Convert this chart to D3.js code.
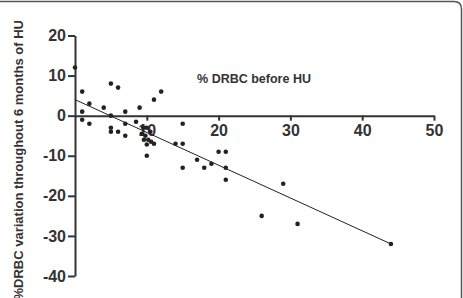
<!DOCTYPE html>
<html>
<head>
<meta charset="utf-8">
<script src="https://cdn.jsdelivr.net/npm/d3@7"></script>
<style>
  html, body { margin: 0; padding: 0; background: #fff; }
  svg { display: block; }
  text { font-family: "Liberation Sans", Arial, sans-serif; font-weight: bold; fill: #333; }
</style>
</head>
<body>
<div id="chart"></div>
<script>
// Scatter: % DRBC before HU vs % DRBC variation after 6 months

// % DRBC before HU
const xValues = [0, 1, 1, 1, 2, 2, 4, 5, 6, 5, 5, 5, 6, 7, 7, 7, 8.5, 9, 11, 12,
    10, 9.5, 10, 9.3, 9.8, 10.5, 9.6, 10.2, 10.6, 11, 10,
    15, 14, 15, 15, 17, 18, 19, 20, 21, 21, 21, 26, 29, 31, 44];
// % DRBC variation throughout 6 months of HU
const yValues = [12, 6, 1, -1, 3, -2, 2, 8, 7, 0, -3, -4, -4, 1, -2, -5, -1.5, 2, 4, 6,
    -10, -3, -3, -4.5, -5, -4, -6, -6, -6.5, -7, -7.2,
    -2, -7, -7, -13, -11, -13, -12, -9, -9, -13, -16, -25, -17, -27, -32];

// regression line ends
const fitX = [0, 44];
const fitY = [4, -32];

const xTicks = [10, 20, 30, 40, 50];
const yTicks = [20, 10, 0, -10, -20, -30, -40];

const W = 463, H = 298;
const fmt = d => String(d); // plain hyphen minus, as in the original

const svg = d3.select("#chart").append("svg")
    .attr("width", W)
    .attr("height", H);

// frame (top + right, rounded corner)
svg.append("path")
    .attr("d", `M0,1.5 H454 Q461.5,1.5 461.5,9 V${H}`)
    .attr("fill", "none")
    .attr("stroke", "#555")
    .attr("stroke-width", 1.5);

const x = d3.scaleLinear().domain([0, 50]).range([75, 434]);
const y = d3.scaleLinear().domain([-40, 20]).range([276, 35.5]);

function styleAxis(g) {
    g.select(".domain").attr("stroke", "#333").attr("stroke-width", 2);
    g.selectAll(".tick line").attr("stroke", "#333").attr("stroke-width", 2);
    g.selectAll("text")
        .style("font-size", "16px")
        .style("font-family", "'Liberation Sans', Arial, sans-serif")
        .style("font-weight", "bold")
        .attr("fill", "#2a2a2a");
}

// y axis
const gy = svg.append("g")
    .attr("transform", `translate(${x(0)},0)`)
    .call(d3.axisLeft(y).tickValues(yTicks).tickFormat(fmt)
        .tickSize(7).tickSizeOuter(0).tickPadding(2));
styleAxis(gy);

// x axis (through y = 0)
const gx = svg.append("g")
    .attr("transform", `translate(0,${y(0)})`)
    .call(d3.axisBottom(x).tickValues(xTicks).tickFormat(fmt)
        .tickSize(5).tickSizeOuter(0).tickPadding(4));
styleAxis(gx);

// regression line
svg.append("line")
    .attr("x1", x(fitX[0])).attr("y1", y(fitY[0]))
    .attr("x2", x(fitX[1])).attr("y2", y(fitY[1]))
    .attr("stroke", "#222")
    .attr("stroke-width", 1);

// points
svg.selectAll(".dot")
    .data(xValues.map((v, i) => [v, yValues[i]]))
    .enter()
    .append("circle")
    .attr("class", "dot")
    .attr("cx", d => x(d[0]))
    .attr("cy", d => y(d[1]))
    .attr("r", 2.3)
    .attr("fill", "#222");

// x axis title (inside plot)
svg.append("text")
    .attr("x", 254)
    .attr("y", 83)
    .attr("text-anchor", "middle")
    .style("font-size", "12.5px")
    .attr("fill", "#444")
    .text("% DRBC before HU");

// y axis title
svg.append("text")
    .attr("transform", "translate(23,20) rotate(-90)")
    .attr("text-anchor", "end")
    .style("font-size", "13px")
    .attr("fill", "#333")
    .text("%DRBC variation throughout 6 months of HU");
</script>
</body>
</html>
